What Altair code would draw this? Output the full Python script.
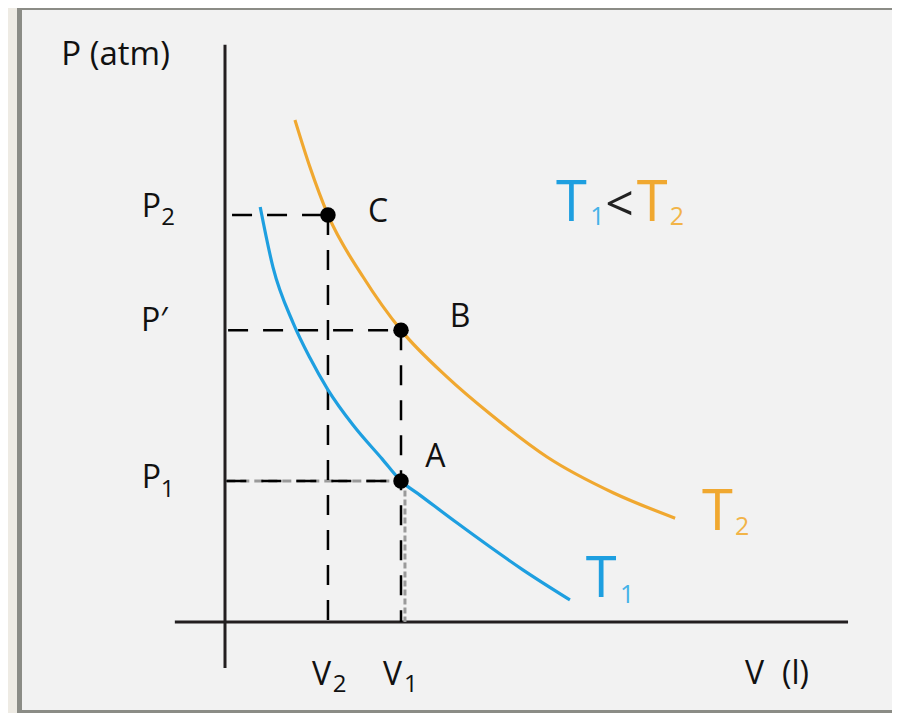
import altair as alt
import pandas as pd

# ---- data (V in litres, P in atm, arbitrary units) ----
T1_V = [0.80, 1.09, 1.55, 1.93, 2.34, 2.91, 3.57, 4.00, 4.43, 5.27, 6.02, 6.77, 7.84]
T1_P = [8.83, 7.55, 6.36, 5.62, 4.94, 4.19, 3.47, 3.00, 2.70, 2.11, 1.60, 1.11, 0.47]
T2_V = [1.59, 1.93, 2.34, 3.14, 4.00, 5.05, 6.02, 7.32, 8.82, 10.23]
T2_P = [10.68, 9.68, 8.66, 7.34, 6.21, 5.21, 4.43, 3.51, 2.75, 2.21]

POINT_NAMES = ["A", "B", "C"]
POINT_V = [4.00, 4.00, 2.34]
POINT_P = [3.00, 6.21, 8.66]

# axis extents (drawn as crossing lines)
YAXIS_P = [-0.98, 12.28]
XAXIS_V = [-1.14, 14.16]

# dashed guides: start V, start P, end V, end P
GUIDE_V1 = [0.16, 0.07, 0.03, 2.34, 4.00]
GUIDE_P1 = [8.66, 6.21, 3.00, 8.66, 6.21]
GUIDE_V2 = [2.34, 4.00, 4.00, 2.34, 4.00]
GUIDE_P2 = [8.66, 6.21, 3.00, 0.00, 0.00]

# text annotations: text, V, P, font size, colour
BLUE = "#1E9FE0"
ORANGE = "#F0A830"
LBLUE = "#45B2E8"
LORANGE = "#F2B448"
ANN_TEXT = ["P (atm)", "P", "2", "P\u2032", "P", "1", "V", "2", "V", "1", "V", "(l)",
            "C", "B", "A", "T", "1", "<", "T", "2", "T", "2", "T", "1"]
ANN_V = [-3.72, -1.89, -1.45, -1.91, -1.89, -1.46, 1.98, 2.45, 3.59, 4.07, 11.82, 12.66,
         3.25, 5.11, 4.55, 7.52, 8.30, 8.64, 9.36, 10.11, 10.84, 11.59, 8.20, 8.98]
ANN_P = [11.85, 8.62, 8.45, 6.19, 2.85, 2.66, -1.34, -1.49, -1.34, -1.49, -1.32, -1.32,
         8.51, 6.28, 3.30, 8.53, 8.45, 8.53, 8.53, 8.45, 1.96, 1.85, 0.53, 0.40]
ANN_SIZE = [33, 32, 24, 32, 32, 24, 32, 24, 32, 24, 32, 32,
            32, 32, 32, 56, 25, 50, 56, 25, 56, 25, 56, 25]
ANN_COLOR = ["#111111"] * 15 + [BLUE, LBLUE, "#222222", ORANGE, LORANGE, ORANGE, LORANGE, BLUE, LBLUE]

W, H = 884, 705
# pixel mapping of the original: x = 217 + 44*V, y = 614 - 47*P (chart coords)
xs = alt.Scale(domain=[-217 / 44, (W - 217) / 44], nice=False, zero=False)
ys = alt.Scale(domain=[(614 - H) / 47, 614 / 47], nice=False, zero=False)

curves = pd.DataFrame(
    [{"V": v, "P": p, "curve": "T1", "i": i} for i, (v, p) in enumerate(zip(T1_V, T1_P))]
    + [{"V": v, "P": p, "curve": "T2", "i": i} for i, (v, p) in enumerate(zip(T2_V, T2_P))]
)
points = pd.DataFrame({"name": POINT_NAMES, "V": POINT_V, "P": POINT_P})
guides = pd.DataFrame({"v1": GUIDE_V1, "p1": GUIDE_P1, "v2": GUIDE_V2, "p2": GUIDE_P2})
ann = pd.DataFrame({"t": ANN_TEXT, "V": ANN_V, "P": ANN_P, "s": ANN_SIZE, "c": ANN_COLOR})
axes = pd.DataFrame({"v1": [0, XAXIS_V[0]], "p1": [YAXIS_P[1], 0],
                     "v2": [0, XAXIS_V[1]], "p2": [YAXIS_P[0], 0]})
one = pd.DataFrame({"k": [0]})

# frame decoration
frame_left = alt.Chart(one).mark_rect(color="#EEEBE4").encode(
    x=alt.value(0), x2=alt.value(9), y=alt.value(0), y2=alt.value(H))
frame_gray = alt.Chart(one).mark_rect(color="#8B8C86").encode(
    x=alt.value(9), x2=alt.value(14), y=alt.value(0), y2=alt.value(H))
frame_top = alt.Chart(one).mark_rect(color="#8B8C86").encode(
    x=alt.value(9), x2=alt.value(W), y=alt.value(0), y2=alt.value(2))
frame_bot = alt.Chart(one).mark_rect(color="#8B8C86").encode(
    x=alt.value(9), x2=alt.value(W), y=alt.value(H - 3), y2=alt.value(H))

axis_lines = alt.Chart(axes).mark_rule(color="#231F20", strokeWidth=3).encode(
    x=alt.X("v1:Q", scale=xs, axis=None), y=alt.Y("p1:Q", scale=ys, axis=None),
    x2="v2:Q", y2="p2:Q")

# grey underlay on the P1 / V1 guides
gray_h = alt.Chart(guides.iloc[[2]]).mark_rule(color="#9A9A9A", strokeWidth=3, strokeDash=[9, 5]).encode(
    x=alt.X("v1:Q", scale=xs, axis=None), y=alt.Y("p1:Q", scale=ys, axis=None),
    x2="v2:Q", y2="p2:Q")
gray_v = alt.Chart(pd.DataFrame({"v": [4.09], "pa": [2.80], "pb": [0.0]})).mark_rule(
    color="#9A9A9A", strokeWidth=3, strokeDash=[6, 3]).encode(
    x=alt.X("v:Q", scale=xs, axis=None), y=alt.Y("pa:Q", scale=ys, axis=None), y2="pb:Q")

dashed = alt.Chart(guides).mark_rule(color="#000000", strokeWidth=2.5, strokeDash=[20, 15]).encode(
    x=alt.X("v1:Q", scale=xs, axis=None), y=alt.Y("p1:Q", scale=ys, axis=None),
    x2="v2:Q", y2="p2:Q")

lines = alt.Chart(curves).mark_line(strokeWidth=3.2, interpolate="monotone").encode(
    x=alt.X("V:Q", scale=xs, axis=None), y=alt.Y("P:Q", scale=ys, axis=None),
    color=alt.Color("curve:N", scale=alt.Scale(domain=["T1", "T2"], range=[BLUE, ORANGE]), legend=None),
    order="i:Q")

dots = alt.Chart(points).mark_point(filled=True, color="#000000", opacity=1, size=240, shape="circle").encode(
    x=alt.X("V:Q", scale=xs, axis=None), y=alt.Y("P:Q", scale=ys, axis=None))

texts = alt.Chart(ann).mark_text(font="Open Sans", align="left", baseline="alphabetic").encode(
    x=alt.X("V:Q", scale=xs, axis=None), y=alt.Y("P:Q", scale=ys, axis=None),
    text="t:N", size=alt.Size("s:Q", scale=None), color=alt.Color("c:N", scale=None))

chart = alt.layer(frame_left, frame_gray, frame_top, frame_bot, axis_lines, gray_h, gray_v,
                  dashed, lines, dots, texts).properties(
    width=W, height=H, padding=0, background="#F2F2F2",
    autosize=alt.AutoSizeParams(type="fit", contains="padding"),
).configure_view(stroke=None)

chart.save("out.html", embed_options={"renderer": "svg", "actions": False})
